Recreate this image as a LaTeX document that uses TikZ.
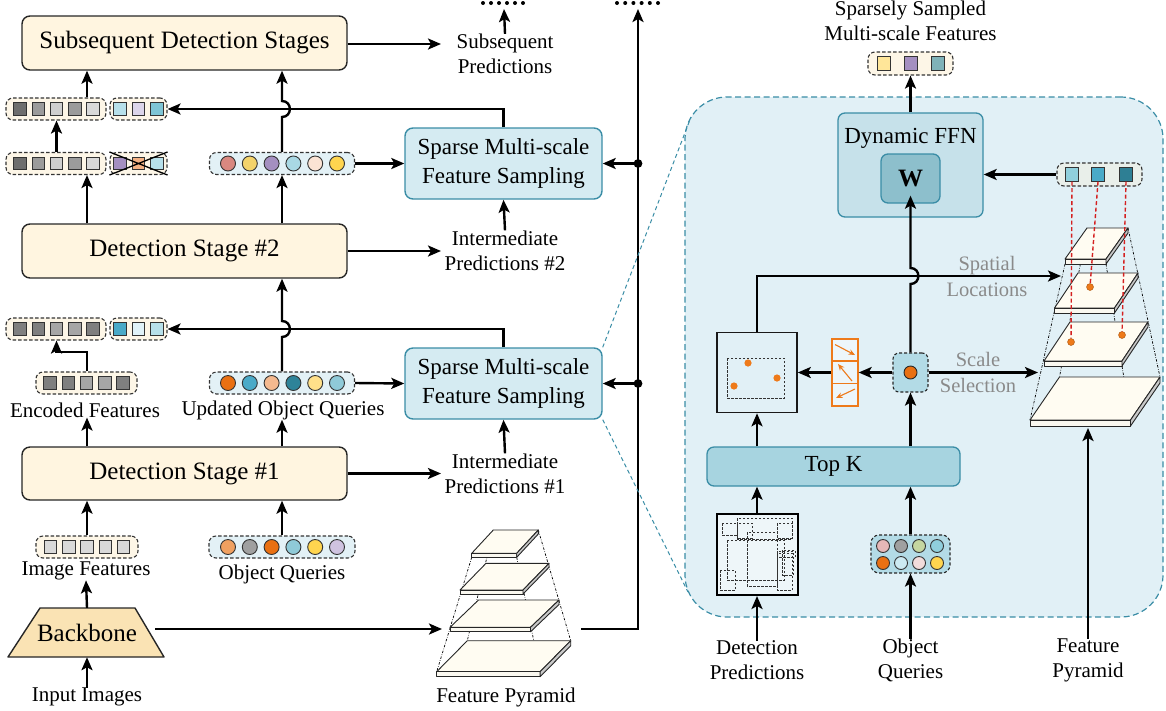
\documentclass[tikz,border=0pt]{standalone}
\usepackage{fontspec}
\setmainfont{Liberation Serif}
\usetikzlibrary{arrows.meta,calc}
\definecolor{cream}{HTML}{FFF5E0}
\definecolor{grpc}{HTML}{FDF6E7}
\definecolor{grpb}{HTML}{E3F1F6}
\definecolor{grpg}{HTML}{E9EFEA}
\definecolor{bbfill}{HTML}{FAE3B4}
\definecolor{tealb}{HTML}{3A8DA6}
\definecolor{sparsef}{HTML}{D5EBF2}
\definecolor{panelf}{HTML}{E1F0F6}
\definecolor{ffnf}{HTML}{C6E1EA}
\definecolor{wfill}{HTML}{8DBFCC}
\definecolor{topkf}{HTML}{A7D4E0}
\definecolor{scalef}{HTML}{B3DBE6}
\definecolor{dpfill}{HTML}{EEF6F9}
\definecolor{graylbl}{HTML}{8A8A8A}
\definecolor{orng}{HTML}{EE7A1A}
\definecolor{reddc}{HTML}{D42020}
\definecolor{laytop}{HTML}{FFFCF2}
\definecolor{layfront}{HTML}{FAF8F0}
\definecolor{layside}{HTML}{C9C9C9}
\definecolor{gD}{HTML}{6E6E6E}
\definecolor{gM}{HTML}{9B9B9B}
\definecolor{gL}{HTML}{CFCFCF}
\definecolor{gLL}{HTML}{D9D9D9}
\definecolor{gEa}{HTML}{7F7F7F}
\definecolor{gEb}{HTML}{A6A6A6}
\definecolor{lbA}{HTML}{B7E0EA}
\definecolor{lav}{HTML}{DCD5EA}
\definecolor{tl}{HTML}{7FC5D5}
\definecolor{pur}{HTML}{A48FC0}
\definecolor{orgl}{HTML}{F4B183}
\definecolor{rose}{HTML}{D98880}
\definecolor{yel}{HTML}{F3D36B}
\definecolor{cyl}{HTML}{A9D8E4}
\definecolor{peach}{HTML}{FBE3D4}
\definecolor{yelb}{HTML}{FFD54F}
\definecolor{oA}{HTML}{E97012}
\definecolor{blA}{HTML}{4AAAC8}
\definecolor{pchB}{HTML}{F4B98F}
\definecolor{dtl}{HTML}{2E8399}
\definecolor{ylC}{HTML}{FFE08A}
\definecolor{lbB}{HTML}{8FCAD8}
\definecolor{vlb}{HTML}{E0F2F8}
\definecolor{sandy}{HTML}{F0A060}
\definecolor{grq}{HTML}{A0A0A0}
\definecolor{lavq}{HTML}{CFC3E0}
\definecolor{pinkq}{HTML}{E6B8B7}
\definecolor{grnq}{HTML}{C5D6A0}
\definecolor{cyq}{HTML}{90CFDC}
\definecolor{lbq}{HTML}{CDEAF2}
\definecolor{ppq}{HTML}{F2DCDB}
\definecolor{sY}{HTML}{FFE699}
\definecolor{sT}{HTML}{7FB2B8}
\definecolor{rB}{HTML}{2E7F94}
\newcommand\fsbig{\fontsize{25}{28}\selectfont}
\newcommand\fsmid{\fontsize{23}{28.5}\selectfont}
\newcommand\fslbl{\fontsize{21}{25}\selectfont}
\newcommand\fsgray{\fontsize{20.5}{26}\selectfont}
\begin{document}
\begin{tikzpicture}[x=1pt,y=-1pt,
 arr/.style={line width=2.4pt, -{Stealth[length=13pt,width=11pt,inset=3pt]}},
 stagebox/.style={draw=black!85, line width=1.4pt, rounded corners=8pt, fill=cream, inner sep=0pt, font=\fsbig, minimum width=325pt},
 sparsebox/.style={draw=tealb, line width=1.4pt, rounded corners=8pt, fill=sparsef, align=center, font=\fsmid, minimum width=197pt, minimum height=71pt, inner sep=0pt},
 grp/.style={draw=black!80, line width=1.1pt, dash pattern=on 3.5pt off 2pt, rounded corners=7pt, inner sep=0pt, minimum height=22pt},
 sq/.style={draw=black!80, line width=0.9pt, minimum size=12.5pt, inner sep=0pt},
 cir/.style={circle, draw=black!80, line width=0.9pt, minimum size=15pt, inner sep=0pt},
 lbl/.style={font=\fslbl, align=center, inner sep=0pt},
 glbl/.style={font=\fsgray, align=center, inner sep=0pt, text=graylbl},
 dd/.style={line width=0.7pt, dash pattern=on 2.5pt off 1.5pt on 0.6pt off 1.5pt},
 ltop/.style={draw=black!85, line width=0.9pt, fill=laytop, line join=round},
 lfront/.style={draw=black!85, line width=0.9pt, fill=layfront, line join=round},
 lside/.style={draw=black!85, line width=0.9pt, fill=layside, line join=round},
 reddash/.style={draw=reddc, line width=1.4pt, dash pattern=on 4pt off 2.5pt},
 odot/.style={circle, fill=orng, draw=orng!70!black, line width=0.4pt, inner sep=0pt, minimum size=7pt},
 predrect/.style={draw=black!80, line width=0.8pt, dash pattern=on 2.5pt off 1.5pt},
 oarr/.style={draw=orng, line width=1.1pt, -{Stealth[length=6.5pt,width=5.5pt]}}
]
\useasboundingbox (0,0) rectangle (1166,710);

% ---------------- left column ----------------
\coordinate (xL) at (87,0);
\coordinate (xR) at (282,0);
\coordinate (xM) at (56.5,0);

\node[stagebox, minimum height=54pt] (sub) at (184.5,43) {Subsequent Detection Stages};
\node[stagebox, minimum height=54pt] (st2) at (184.5,251) {Detection Stage \#2};
\node[stagebox, minimum height=53pt] (st1) at (184.5,473.5) {Detection Stage \#1};

% row 1
\node[grp, fill=grpc, minimum width=100pt] (gA1) at (56,109) {};
\node[grp, fill=grpc, minimum width=57pt] (gB1) at (138.5,109) {};
\foreach \x/\c [count=\i] in {20/gD,38.25/gM,56.5/gL,74.75/gM,93/gLL}
  \node[sq, fill=\c] (a1\i) at (\x,109) {};
\foreach \x/\c [count=\i] in {120/lbA,138.5/lav,157/tl}
  \node[sq, fill=\c] (b1\i) at (\x,109) {};

% row 2
\node[grp, fill=grpc, minimum width=100pt] (gA2) at (56,163.5) {};
\node[grp, fill=grpc, minimum width=57pt] (gB2) at (138.5,163.5) {};
\foreach \x/\c [count=\i] in {20/gD,38.25/gM,56.5/gL,74.75/gM,93/gLL}
  \node[sq, fill=\c] (a2\i) at (\x,163.5) {};
\foreach \x/\c [count=\i] in {120/pur,138.5/orgl,157/lbA}
  \node[sq, fill=\c] (b2\i) at (\x,163.5) {};
\draw[line width=1.3pt] (gB2.north west) -- (gB2.south east) (gB2.south west) -- (gB2.north east);
\node[grp, fill=grpb, minimum width=145pt] (gC2) at (282,163.5) {};
\foreach \c [count=\i from 0] in {rose,yel,pur,cyl,peach,yelb}
  \node[cir, fill=\c] (c2\i) at (228+21.8*\i,163.5) {};

% row 3
\node[grp, fill=grpc, minimum width=100pt] (gA3) at (56,329) {};
\node[grp, fill=grpc, minimum width=57pt] (gB3) at (138.5,329) {};
\foreach \x/\c [count=\i] in {20/gEa,38.25/gEa,56.5/gEb,74.75/gEb,93/gEa}
  \node[sq, fill=\c] (a3\i) at (\x,329) {};
\foreach \x/\c [count=\i] in {120/blA,138.5/vlb,157/lbA}
  \node[sq, fill=\c] (b3\i) at (\x,329) {};

% encoded / updated
\node[grp, fill=grpc, minimum width=101pt] (gE) at (86.5,383) {};
\foreach \c [count=\i from 0] in {gEa,gEa,gEb,gEb,gEa}
  \node[sq, fill=\c] (e\i) at (50+18.25*\i,383) {};
\node[grp, fill=grpb, minimum width=145pt] (gU) at (282,383) {};
\foreach \c [count=\i from 0] in {oA,blA,pchB,dtl,ylC,lbB}
  \node[cir, fill=\c] (u\i) at (228+21.8*\i,383) {};
\node[lbl] (encl) at (85,410) {Encoded Features};
\node[lbl] (updl) at (283,410) {Updated Object Queries};

% image features / object queries
\node[grp, fill=grpc, minimum width=102pt] (gI) at (87,547) {};
\foreach \i in {0,...,4}
  \node[sq, fill=gLL] (im\i) at (50.5+18.25*\i,547) {};
\node[grp, fill=grpb, minimum width=146pt] (gO) at (282,547) {};
\foreach \c [count=\i from 0] in {sandy,grq,oA,lbB,yelb,lavq}
  \node[cir, fill=\c] (q\i) at (228+21.8*\i,547) {};
\node[lbl] (imgl) at (86,571) {Image Features};
\node[lbl] (objl) at (282,574) {Object Queries};

% backbone
\filldraw[draw=black!85, line width=1.4pt, fill=bbfill, line join=round] (8,657) -- (40,608) -- (135,608) -- (164,657) -- cycle;
\node[font=\fsbig, minimum width=136pt, minimum height=49pt, inner sep=0pt] (bb) at (87,632.5) {Backbone};
\node[lbl] (inpl) at (87,697) {Input Images};

% sparse boxes and labels
\node[sparsebox] (sp2) at (503.5,163.5) {Sparse Multi-scale\\Feature Sampling};
\node[sparsebox] (sp1) at (503.5,383.5) {Sparse Multi-scale\\Feature Sampling};
\node[lbl] (subp) at (505,54) {Subsequent\\Predictions};
\node[lbl] (ip2) at (505,250.5) {Intermediate\\Predictions \#2};
\node[lbl] (ip1) at (505,473.5) {Intermediate\\Predictions \#1};

% middle feature pyramid
\draw[dd] (471.7,557.3) -- (436.7,671.7);
\draw[dd] (538.3,530) -- (570.7,640.7);
\draw[dd] (493.3,530) -- (467.3,640.7);
\draw[dd] (516.7,557.3) -- (540.1,671.7);
\foreach \yb/\xbl/\xbr/\yf/\xfl/\xfr/\t in {530/493.3/538.3/553.3/471.7/516.7/4, 563.3/486/549/590/460/523/4, 600/478.5/559/627.3/450/530.5/4.5, 640.7/467.3/570.7/671.7/436.7/540.1/5}{
  \filldraw[ltop] (\xbl,\yb) -- (\xbr,\yb) -- (\xfr,\yf) -- (\xfl,\yf) -- cycle;
  \filldraw[lfront] (\xfl,\yf) -- (\xfr,\yf) -- (\xfr,\yf+\t) -- (\xfl,\yf+\t) -- cycle;
  \filldraw[lside] (\xfr,\yf) -- (\xbr,\yb) -- (\xbr,\yb+\t) -- (\xfr,\yf+\t) -- cycle;
}
\node[lbl] (fpl) at (506,697) {Feature Pyramid};
\coordinate (fpin) at (442,629);
\coordinate (fpout) at (581,629);

% left connectors
\draw[arr] (st2.north -| xL) -- (gA2.south -| xL);
\draw[arr] (gA2.north -| xM) -- (gA1.south -| xM);
\draw[arr] (gA1.north -| xL) -- (sub.south -| xL);
\draw[arr] (st2.north -| xR) -- (gC2.south -| xR);
\draw[arr] (gC2.north -| xR) -- (282,117) .. controls (292.5,117) and (292.5,101) .. (282,101) -- (sub.south -| xR);
\draw[arr] (sp2.north) |- (gB1.east);
\draw[arr] (gC2.east) -- (sp2.west);
\draw[arr] (gE.north -| xL) -- (87,352) -| (gA3.south -| xM);
\draw[arr] (st1.north -| xL) -- (encl.south -| xL);
\draw[arr] (st1.north -| xR) -- (updl.south -| xR);
\draw[arr] (gU.north -| xR) -- (282,337) .. controls (292.5,337) and (292.5,321) .. (282,321) -- (st2.south -| xR);
\draw[arr] (sp1.north) |- (gB3.east);
\draw[arr] (gU.east) -- (sp1.west);
\draw[arr] (gI.north -| xL) -- (st1.south -| xL);
\draw[arr] (bb.north) -- (imgl.south);
\draw[arr] (gO.north -| xR) -- (st1.south -| xR);
\draw[arr] (inpl.north) -- (bb.south);
\draw[arr] (bb.east |- fpin) -- (fpin);
\coordinate (p3) at (441,44);
\coordinate (p2) at (441,251);
\coordinate (p1) at (441,473.5);
\draw[arr] (sub.east |- p3) -- (p3);
\draw[arr] (st2.east) -- (p2);
\draw[arr] (st1.east) -- (p1);
\draw[arr] (ip2.north) -- (sp2.south);
\draw[arr] (ip1.north) -- (sp1.south);
\coordinate (dots1) at (504,9);
\draw[arr] (subp.north) -- (dots1);

% bus
\coordinate (bustop) at (638,9);
\coordinate (j2) at (638,163.5);
\coordinate (j1) at (638,383.5);
\draw[arr] (fpout) -| (bustop);
\fill (j2) circle (4.4pt);
\fill (j1) circle (4.4pt);
\draw[arr] (j2) -- (sp2.east);
\draw[arr] (j1) -- (sp1.east);
\foreach \i in {0,...,5} {\fill (483+8*\i,3) circle (2pt); \fill (617+8.2*\i,3) circle (2pt);}

% ---------------- right panel ----------------
\node[draw=tealb, fill=panelf, line width=1.2pt, dash pattern=on 6pt off 3.5pt, rounded corners=42pt, minimum width=478pt, minimum height=520pt, inner sep=0pt] (panel) at (924,357) {};
\coordinate (zt) at (691,117);
\coordinate (zb) at (688,592);
\draw[tealb, line width=1pt, dash pattern=on 4pt off 3pt] (sp1.north east) -- (zt);
\draw[tealb, line width=1pt, dash pattern=on 4pt off 3pt] (sp1.south east) -- (zb);

\node[draw=tealb, fill=ffnf, line width=1.3pt, rounded corners=7pt, minimum width=145pt, minimum height=104pt, inner sep=0pt] (ffn) at (910.5,165) {};
\node[font=\fsmid, inner sep=0pt] (ffnl) at (910.5,138) {Dynamic FFN};
\node[draw=tealb, fill=wfill, line width=1.3pt, rounded corners=7pt, minimum width=59pt, minimum height=49pt, inner sep=0pt, font=\fsbig\bfseries] (wbox) at (910.5,178.5) {W};

\node[lbl] (ssl) at (910.5,21) {Sparsely Sampled\\Multi-scale Features};
\node[grp, fill=grpc, minimum width=85pt, minimum height=23pt] (gS) at (910.5,63.5) {};
\foreach \x/\c [count=\i] in {884/sY,911/pur,938/sT}
  \node[sq, fill=\c, minimum size=13.5pt] (s\i) at (\x,63.5) {};
\draw[arr] (ffn.north) -- (gS.south);

\node[grp, fill=grpg, minimum width=85pt, minimum height=23pt] (gR) at (1099.5,174.5) {};
\foreach \x/\c [count=\i] in {1072/cyq,1098/blA,1126/rB}
  \node[sq, fill=\c, minimum size=13.5pt] (r\i) at (\x,174.5) {};
\draw[arr] (gR.west) -- (gR.west -| ffn.east);

% right pyramid
\draw[dd] (1065,264) -- (1030,420);
\draw[dd] (1128,228) -- (1160,377);
\draw[dd] (1087,228) -- (1059.5,377);
\draw[dd] (1106,264) -- (1130.5,420);
\foreach \yb/\xbl/\xbr/\yf/\xfl/\xfr/\t in {228/1087/1128/259/1065/1106/5, 273/1078/1138/308/1054.5/1114.5/5, 322/1070/1148/361/1044/1122/5, 377/1059.5/1160/420/1030/1130.5/6}{
  \filldraw[ltop] (\xbl,\yb) -- (\xbr,\yb) -- (\xfr,\yf) -- (\xfl,\yf) -- cycle;
  \filldraw[lfront] (\xfl,\yf) -- (\xfr,\yf) -- (\xfr,\yf+\t) -- (\xfl,\yf+\t) -- cycle;
  \filldraw[lside] (\xfr,\yf) -- (\xbr,\yb) -- (\xbr,\yb+\t) -- (\xfr,\yf+\t) -- cycle;
}
\node[odot] (od1) at (1090,287) {};
\node[odot] (od2) at (1071,342) {};
\node[odot] (od3) at (1122,335) {};
\draw[reddash] (r1.south) -- (od2);
\draw[reddash] (r2.south) -- (od1);
\draw[reddash] (r3.south) -- (od3);

% top k, boxes
\node[draw=tealb, fill=topkf, line width=1.3pt, rounded corners=7pt, minimum width=253pt, minimum height=39pt, inner sep=0pt, font=\fsmid] (topk) at (833.5,466.5) {Top K};

\node[draw=black!90, line width=1.6pt, fill=panelf, minimum size=80pt, inner sep=0pt] (dbox) at (757,372.5) {};
\draw[predrect] (727,358) rectangle (784,398);
\fill[orng] (748,363) circle (3.6pt) (734,386) circle (3.6pt) (777,378) circle (3.6pt);

\node[draw=orng, line width=1.3pt, fill=panelf!60!white, minimum width=26pt, minimum height=67pt, inner sep=0pt] (obox) at (845,372.5) {};
\draw[orng, line width=1.3pt] (obox.west |- 0,361) -- (obox.east |- 0,361) (obox.west |- 0,383.7) -- (obox.east |- 0,383.7);
\draw[oarr] (835,344.5) -- (855,355);
\draw[oarr] (852,381) -- (838,364);
\draw[oarr] (855,389) -- (836,398);

\node[draw=black!85, line width=1.1pt, dash pattern=on 3pt off 2pt, fill=scalef, rounded corners=6pt, minimum width=35pt, minimum height=39pt, inner sep=0pt] (sbox) at (910.5,372.5) {};
\node[circle, fill=oA, draw=black!85, line width=0.9pt, minimum size=13pt, inner sep=0pt] (sdot) at (910.5,372.5) {};

\node[draw=black!85, line width=1.1pt, dash pattern=on 3pt off 2pt, fill=scalef, rounded corners=8pt, minimum width=79pt, minimum height=38pt, inner sep=0pt] (gQ) at (910.5,554) {};
\foreach \c [count=\i from 0] in {pinkq,grq,grnq,cyq}
  \node[cir, fill=\c, minimum size=13pt] (qa\i) at (883+18*\i,546) {};
\foreach \c [count=\i from 0] in {oA,lbq,ppq,yelb}
  \node[cir, fill=\c, minimum size=13pt] (qb\i) at (883+18*\i,563) {};

\node[draw=black, line width=2pt, fill=dpfill, minimum size=81pt, inner sep=0pt] (dp) at (757,554.5) {};
\draw[predrect] (722,523) rectangle (737,535);
\draw[predrect] (737,518) rectangle (792,539);
\draw[predrect] (737,523) rectangle (752,538);
\draw[predrect] (777,523) rectangle (792,538);
\draw[predrect] (747,532) rectangle (777,586);
\draw[predrect] (727,540) rectangle (784,580);
\draw[predrect] (777,551) rectangle (795,557);
\draw[predrect] (777,553) rectangle (792,590);
\draw[predrect] (720,570) rectangle (735,590);
\draw[predrect] (782,550) rectangle (793,575);

\node[lbl] (dpl) at (757,660.5) {Detection\\Predictions};
\node[lbl] (oql) at (910.5,660.5) {Object\\Queries};
\node[lbl] (fpl2) at (1088,660.5) {Feature\\Pyramid};
\node[glbl] (spl) at (987,276) {Spatial\\Locations};
\node[glbl] (scl) at (978,372) {Scale\\Selection};

% right connectors
\coordinate (spt) at (1061,276);
\coordinate (ssel) at (1038,372.5);
\coordinate (fp2b) at (1088,428);
\draw[arr] (dbox.north) |- (spt);
\draw[arr] (sbox.east) -- (ssel);
\draw[arr] (sbox.north) -- (910.5,284) .. controls (921,284) and (921,268) .. (910.5,268) -- ($(wbox.south)+(0,-8)$);
\draw[arr] (topk.north -| dbox) -- (dbox.south);
\draw[arr] (topk.north -| sbox) -- (sbox.south);
\draw[arr] (sbox.west) -- (obox.east);
\draw[arr] (obox.west) -- (dbox.east);
\draw[arr] (dp.north) -- (topk.south -| dp);
\draw[arr] (gQ.north) -- (topk.south -| gQ);
\draw[arr] (dpl.north) -- (dp.south);
\draw[arr] (oql.north) -- (gQ.south);
\draw[arr] (fpl2.north) -- (fp2b);
\end{tikzpicture}
\end{document}
